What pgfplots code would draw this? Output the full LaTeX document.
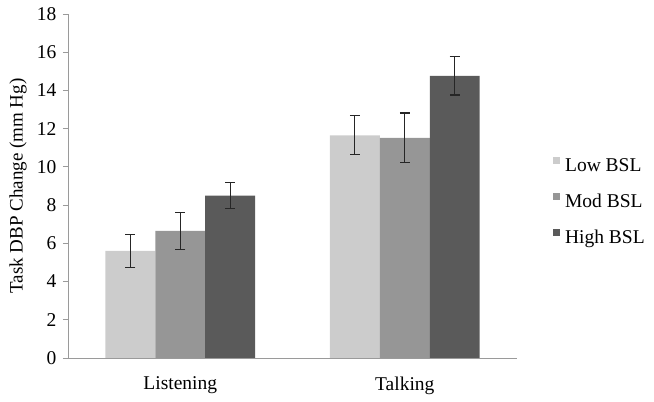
\documentclass[border=0pt]{standalone}
\usepackage{pgfplots}
\pgfplotsset{compat=1.18}
\usepackage{fontspec}
\setmainfont{Liberation Serif}
\newfontfamily\tnr{Liberation Serif}
\definecolor{lowc}{HTML}{CCCCCC}
\definecolor{modc}{HTML}{969696}
\definecolor{highc}{HTML}{5A5A5A}
\definecolor{axc}{HTML}{9A9A9A}
\begin{document}
\begin{tikzpicture}[font=\tnr\fontsize{19bp}{23bp}\selectfont]
\begin{axis}[
  name=ax,
  scale only axis,
  width=449bp, height=344bp,
  ybar=0pt,
  bar width=0.2227,
  xmin=-0.5, xmax=1.5,
  ymin=0, ymax=18,
  ytick={0,2,...,18},
  xtick={0,1},
  xticklabels={Listening,Talking},
  x tick style={draw=none},
  extra x ticks={-0.5,0.5,1.5},
  extra x tick labels={},
  extra x tick style={major tick length=6bp, tick style={draw=axc}, xtick align=outside},
  axis x line=bottom, axis y line=left,
  axis line style={draw=axc, -},
  y tick style={draw=axc, line width=0.8pt},
  major tick length=5bp,
  tick align=outside,
  /pgf/number format/assume math mode=true,
  ticklabel style={font=\tnr\fontsize{19.5bp}{23bp}\selectfont},
  label style={font=\tnr\fontsize{19bp}{23bp}\selectfont},
  yticklabel style={xshift=-3bp},
  ylabel={Task DBP Change (mm Hg)},
  ylabel style={at={(axis description cs:-0.1114,0.5)}, anchor=center},
  xticklabel style={yshift=-10bp},
  legend style={at={(1.08,0.453)}, anchor=west, draw=none, fill=none,
     row sep=17bp, inner sep=0pt, font=\tnr\fontsize{19.5bp}{23bp}\selectfont,
     /tikz/every odd column/.append style={column sep=3bp}},
  legend cell align=left,
  legend image code/.code={\fill[#1] (0bp,2bp) rectangle (7bp,9bp);},
  error bars/y dir=both, error bars/y explicit,
  error bars/error mark options={rotate=90, mark size=5bp, line width=1.1pt, black!85},
  error bars/error bar style={line width=1.1pt, black!85},
]
\addplot[fill=lowc, draw=none] coordinates {(0,5.6) +- (0,0.87) (1,11.65) +- (0,1.02)};
\addplot[fill=modc, draw=none] coordinates {(0,6.65) +- (0,0.95) (1,11.52) +- (0,1.3)};
\addplot[fill=highc, draw=none] coordinates {(0,8.5) +- (0,0.7) (1,14.76) +- (0,1.0)};
\legend{Low BSL, Mod BSL, High BSL}
\end{axis}
\pgfresetboundingbox
\path[use as bounding box] ([shift={(-68bp,-44bp)}]ax.south west) rectangle ([shift={(137bp,14bp)}]ax.north east);
\end{tikzpicture}
\end{document}
